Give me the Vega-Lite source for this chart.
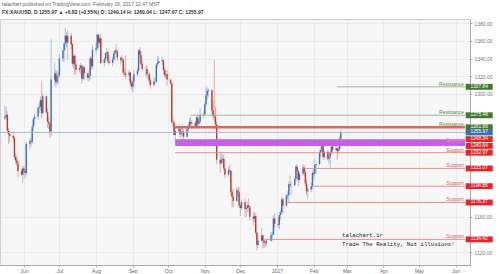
{
  "$schema": "https://vega.github.io/schema/vega-lite/v6.json",
  "autosize": {"type": "none"},
  "padding": {"left": 0, "top": 19, "right": 29, "bottom": 9},
  "width": 470,
  "height": 246,
  "background": "#ffffff",
  "config": {
    "font": "Liberation Sans",
    "view": {"fill": "#f6f6f6", "stroke": "#cfcfcf"}
  },
  "title": {
    "text": "talachart published on TradingView.com, February 26, 2017 12:47 MST",
    "subtitle": "FX:XAUUSD, D  1255.97 ▲ +6.83 (+0.55%)  O: 1249.14  H: 1260.04  L: 1247.67  C: 1255.97",
    "anchor": "start", "frame": "group", "fontSize": 5, "subtitleFontSize": 5,
    "fontWeight": "normal", "subtitleFontWeight": "bold", "color": "#666", "subtitleColor": "#333",
    "offset": 4, "subtitlePadding": 3, "dx": 2
  },
  "resolve": {"axis": {"x": "independent", "y": "independent"}},
  "datasets": {
    "c": [
      {"d":"2016-05-16","o":1272,"h":1287,"l":1270,"c":1274},
      {"d":"2016-05-17","o":1274,"h":1285,"l":1270,"c":1276},
      {"d":"2016-05-18","o":1276,"h":1280,"l":1255,"c":1258},
      {"d":"2016-05-19","o":1258,"h":1261,"l":1243,"c":1254},
      {"d":"2016-05-20","o":1254,"h":1258,"l":1245,"c":1252},
      {"d":"2016-05-23","o":1252,"h":1257,"l":1245,"c":1250},
      {"d":"2016-05-24","o":1250,"h":1252,"l":1225,"c":1228},
      {"d":"2016-05-25","o":1228,"h":1232,"l":1220,"c":1224},
      {"d":"2016-05-26","o":1224,"h":1229,"l":1218,"c":1221},
      {"d":"2016-05-27","o":1221,"h":1225,"l":1205,"c":1212},
      {"d":"2016-05-30","o":1212,"h":1215,"l":1206,"c":1208},
      {"d":"2016-05-31","o":1208,"h":1218,"l":1199,"c":1215},
      {"d":"2016-06-01","o":1215,"h":1218,"l":1208,"c":1212},
      {"d":"2016-06-02","o":1212,"h":1214,"l":1204,"c":1210},
      {"d":"2016-06-03","o":1210,"h":1245,"l":1207,"c":1243},
      {"d":"2016-06-06","o":1243,"h":1249,"l":1237,"c":1246},
      {"d":"2016-06-07","o":1246,"h":1250,"l":1240,"c":1245},
      {"d":"2016-06-08","o":1245,"h":1265,"l":1243,"c":1262},
      {"d":"2016-06-09","o":1262,"h":1273,"l":1258,"c":1271},
      {"d":"2016-06-10","o":1271,"h":1277,"l":1265,"c":1274},
      {"d":"2016-06-13","o":1274,"h":1287,"l":1270,"c":1284},
      {"d":"2016-06-14","o":1284,"h":1290,"l":1278,"c":1285},
      {"d":"2016-06-15","o":1285,"h":1297,"l":1280,"c":1293},
      {"d":"2016-06-16","o":1293,"h":1315,"l":1272,"c":1278},
      {"d":"2016-06-17","o":1278,"h":1300,"l":1276,"c":1297},
      {"d":"2016-06-20","o":1297,"h":1298,"l":1278,"c":1279},
      {"d":"2016-06-21","o":1279,"h":1283,"l":1261,"c":1268},
      {"d":"2016-06-22","o":1268,"h":1273,"l":1260,"c":1266},
      {"d":"2016-06-23","o":1266,"h":1268,"l":1250,"c":1257},
      {"d":"2016-06-24","o":1257,"h":1362,"l":1252,"c":1316},
      {"d":"2016-06-27","o":1316,"h":1335,"l":1310,"c":1323},
      {"d":"2016-06-28","o":1323,"h":1327,"l":1307,"c":1313},
      {"d":"2016-06-29","o":1313,"h":1326,"l":1310,"c":1320},
      {"d":"2016-06-30","o":1320,"h":1325,"l":1311,"c":1321},
      {"d":"2016-07-01","o":1321,"h":1345,"l":1318,"c":1340},
      {"d":"2016-07-04","o":1340,"h":1350,"l":1336,"c":1349},
      {"d":"2016-07-05","o":1349,"h":1358,"l":1337,"c":1357},
      {"d":"2016-07-06","o":1357,"h":1375,"l":1350,"c":1366},
      {"d":"2016-07-07","o":1366,"h":1370,"l":1353,"c":1358},
      {"d":"2016-07-08","o":1358,"h":1372,"l":1338,"c":1366},
      {"d":"2016-07-11","o":1366,"h":1369,"l":1350,"c":1356},
      {"d":"2016-07-12","o":1356,"h":1358,"l":1331,"c":1334},
      {"d":"2016-07-13","o":1334,"h":1345,"l":1328,"c":1343},
      {"d":"2016-07-14","o":1343,"h":1345,"l":1321,"c":1333},
      {"d":"2016-07-15","o":1333,"h":1338,"l":1323,"c":1327},
      {"d":"2016-07-18","o":1327,"h":1333,"l":1324,"c":1329},
      {"d":"2016-07-19","o":1329,"h":1335,"l":1322,"c":1332},
      {"d":"2016-07-20","o":1332,"h":1333,"l":1311,"c":1317},
      {"d":"2016-07-21","o":1317,"h":1331,"l":1315,"c":1330},
      {"d":"2016-07-22","o":1330,"h":1332,"l":1316,"c":1323},
      {"d":"2016-07-25","o":1323,"h":1324,"l":1315,"c":1318},
      {"d":"2016-07-26","o":1318,"h":1326,"l":1314,"c":1320},
      {"d":"2016-07-27","o":1320,"h":1343,"l":1316,"c":1340},
      {"d":"2016-07-28","o":1340,"h":1342,"l":1326,"c":1331},
      {"d":"2016-07-29","o":1331,"h":1355,"l":1328,"c":1350},
      {"d":"2016-08-01","o":1350,"h":1358,"l":1345,"c":1352},
      {"d":"2016-08-02","o":1352,"h":1368,"l":1350,"c":1367},
      {"d":"2016-08-03","o":1367,"h":1368,"l":1350,"c":1358},
      {"d":"2016-08-04","o":1358,"h":1366,"l":1354,"c":1363},
      {"d":"2016-08-05","o":1363,"h":1368,"l":1334,"c":1335},
      {"d":"2016-08-08","o":1335,"h":1341,"l":1331,"c":1339},
      {"d":"2016-08-09","o":1339,"h":1347,"l":1335,"c":1346},
      {"d":"2016-08-10","o":1346,"h":1352,"l":1340,"c":1347},
      {"d":"2016-08-11","o":1347,"h":1349,"l":1335,"c":1337},
      {"d":"2016-08-12","o":1337,"h":1344,"l":1332,"c":1335},
      {"d":"2016-08-15","o":1335,"h":1342,"l":1331,"c":1339},
      {"d":"2016-08-16","o":1339,"h":1348,"l":1337,"c":1346},
      {"d":"2016-08-17","o":1346,"h":1350,"l":1340,"c":1349},
      {"d":"2016-08-18","o":1349,"h":1356,"l":1345,"c":1348},
      {"d":"2016-08-19","o":1348,"h":1351,"l":1337,"c":1341},
      {"d":"2016-08-22","o":1341,"h":1342,"l":1333,"c":1338},
      {"d":"2016-08-23","o":1338,"h":1345,"l":1335,"c":1339},
      {"d":"2016-08-24","o":1339,"h":1341,"l":1321,"c":1324},
      {"d":"2016-08-25","o":1324,"h":1329,"l":1319,"c":1323},
      {"d":"2016-08-26","o":1323,"h":1344,"l":1317,"c":1321},
      {"d":"2016-08-29","o":1321,"h":1327,"l":1315,"c":1324},
      {"d":"2016-08-30","o":1324,"h":1325,"l":1309,"c":1312},
      {"d":"2016-08-31","o":1312,"h":1315,"l":1305,"c":1308},
      {"d":"2016-09-01","o":1308,"h":1318,"l":1302,"c":1314},
      {"d":"2016-09-02","o":1314,"h":1327,"l":1307,"c":1322},
      {"d":"2016-09-05","o":1322,"h":1330,"l":1320,"c":1326},
      {"d":"2016-09-06","o":1326,"h":1351,"l":1325,"c":1349},
      {"d":"2016-09-07","o":1349,"h":1353,"l":1340,"c":1344},
      {"d":"2016-09-08","o":1344,"h":1348,"l":1332,"c":1334},
      {"d":"2016-09-09","o":1334,"h":1338,"l":1325,"c":1328},
      {"d":"2016-09-12","o":1328,"h":1331,"l":1320,"c":1328},
      {"d":"2016-09-13","o":1328,"h":1332,"l":1317,"c":1322},
      {"d":"2016-09-14","o":1322,"h":1327,"l":1318,"c":1322},
      {"d":"2016-09-15","o":1322,"h":1324,"l":1310,"c":1315},
      {"d":"2016-09-16","o":1315,"h":1318,"l":1306,"c":1310},
      {"d":"2016-09-19","o":1310,"h":1318,"l":1308,"c":1314},
      {"d":"2016-09-20","o":1314,"h":1318,"l":1311,"c":1314},
      {"d":"2016-09-21","o":1314,"h":1335,"l":1312,"c":1333},
      {"d":"2016-09-22","o":1333,"h":1343,"l":1330,"c":1335},
      {"d":"2016-09-23","o":1335,"h":1342,"l":1334,"c":1337},
      {"d":"2016-09-26","o":1337,"h":1342,"l":1333,"c":1338},
      {"d":"2016-09-27","o":1338,"h":1339,"l":1322,"c":1327},
      {"d":"2016-09-28","o":1327,"h":1330,"l":1318,"c":1321},
      {"d":"2016-09-29","o":1321,"h":1327,"l":1317,"c":1322},
      {"d":"2016-09-30","o":1322,"h":1327,"l":1309,"c":1316},
      {"d":"2016-10-03","o":1316,"h":1317,"l":1310,"c":1312},
      {"d":"2016-10-04","o":1312,"h":1313,"l":1266,"c":1268},
      {"d":"2016-10-05","o":1268,"h":1273,"l":1262,"c":1267},
      {"d":"2016-10-06","o":1267,"h":1269,"l":1252,"c":1253},
      {"d":"2016-10-07","o":1253,"h":1264,"l":1241,"c":1258},
      {"d":"2016-10-10","o":1258,"h":1266,"l":1256,"c":1260},
      {"d":"2016-10-11","o":1260,"h":1262,"l":1250,"c":1254},
      {"d":"2016-10-12","o":1254,"h":1261,"l":1250,"c":1255},
      {"d":"2016-10-13","o":1255,"h":1265,"l":1252,"c":1257},
      {"d":"2016-10-14","o":1257,"h":1260,"l":1248,"c":1251},
      {"d":"2016-10-17","o":1251,"h":1261,"l":1250,"c":1260},
      {"d":"2016-10-18","o":1260,"h":1266,"l":1257,"c":1262},
      {"d":"2016-10-19","o":1262,"h":1272,"l":1260,"c":1268},
      {"d":"2016-10-20","o":1268,"h":1274,"l":1261,"c":1266},
      {"d":"2016-10-21","o":1266,"h":1270,"l":1260,"c":1267},
      {"d":"2016-10-24","o":1267,"h":1269,"l":1261,"c":1263},
      {"d":"2016-10-25","o":1263,"h":1275,"l":1261,"c":1273},
      {"d":"2016-10-26","o":1273,"h":1277,"l":1263,"c":1266},
      {"d":"2016-10-27","o":1266,"h":1271,"l":1262,"c":1268},
      {"d":"2016-10-28","o":1268,"h":1284,"l":1265,"c":1276},
      {"d":"2016-10-31","o":1276,"h":1280,"l":1272,"c":1277},
      {"d":"2016-11-01","o":1277,"h":1291,"l":1275,"c":1288},
      {"d":"2016-11-02","o":1288,"h":1306,"l":1285,"c":1298},
      {"d":"2016-11-03","o":1298,"h":1308,"l":1293,"c":1303},
      {"d":"2016-11-04","o":1303,"h":1306,"l":1296,"c":1304},
      {"d":"2016-11-07","o":1304,"h":1305,"l":1277,"c":1281},
      {"d":"2016-11-08","o":1281,"h":1292,"l":1271,"c":1275},
      {"d":"2016-11-09","o":1275,"h":1338,"l":1268,"c":1274},
      {"d":"2016-11-10","o":1274,"h":1285,"l":1260,"c":1265},
      {"d":"2016-11-11","o":1265,"h":1268,"l":1220,"c":1225},
      {"d":"2016-11-14","o":1225,"h":1232,"l":1210,"c":1221},
      {"d":"2016-11-15","o":1221,"h":1234,"l":1219,"c":1225},
      {"d":"2016-11-16","o":1225,"h":1231,"l":1221,"c":1226},
      {"d":"2016-11-17","o":1226,"h":1231,"l":1212,"c":1215},
      {"d":"2016-11-18","o":1215,"h":1219,"l":1204,"c":1208},
      {"d":"2016-11-21","o":1208,"h":1217,"l":1205,"c":1213},
      {"d":"2016-11-22","o":1213,"h":1220,"l":1208,"c":1212},
      {"d":"2016-11-23","o":1212,"h":1213,"l":1184,"c":1188},
      {"d":"2016-11-24","o":1188,"h":1191,"l":1171,"c":1183},
      {"d":"2016-11-25","o":1183,"h":1192,"l":1171,"c":1178},
      {"d":"2016-11-28","o":1178,"h":1194,"l":1177,"c":1190},
      {"d":"2016-11-29","o":1190,"h":1194,"l":1183,"c":1188},
      {"d":"2016-11-30","o":1188,"h":1194,"l":1170,"c":1173},
      {"d":"2016-12-01","o":1173,"h":1175,"l":1161,"c":1170},
      {"d":"2016-12-02","o":1170,"h":1180,"l":1168,"c":1177},
      {"d":"2016-12-05","o":1177,"h":1181,"l":1160,"c":1169},
      {"d":"2016-12-06","o":1169,"h":1172,"l":1160,"c":1170},
      {"d":"2016-12-07","o":1170,"h":1178,"l":1165,"c":1173},
      {"d":"2016-12-08","o":1173,"h":1181,"l":1167,"c":1171},
      {"d":"2016-12-09","o":1171,"h":1173,"l":1156,"c":1160},
      {"d":"2016-12-12","o":1160,"h":1165,"l":1150,"c":1158},
      {"d":"2016-12-13","o":1158,"h":1166,"l":1154,"c":1161},
      {"d":"2016-12-14","o":1161,"h":1164,"l":1140,"c":1142},
      {"d":"2016-12-15","o":1142,"h":1143,"l":1122,"c":1128},
      {"d":"2016-12-16","o":1128,"h":1140,"l":1125,"c":1133},
      {"d":"2016-12-19","o":1133,"h":1147,"l":1132,"c":1139},
      {"d":"2016-12-20","o":1139,"h":1139,"l":1124,"c":1133},
      {"d":"2016-12-21","o":1133,"h":1136,"l":1125,"c":1131},
      {"d":"2016-12-22","o":1131,"h":1135,"l":1126,"c":1130},
      {"d":"2016-12-23","o":1130,"h":1135,"l":1127,"c":1133},
      {"d":"2016-12-27","o":1133,"h":1143,"l":1132,"c":1139},
      {"d":"2016-12-28","o":1139,"h":1143,"l":1133,"c":1140},
      {"d":"2016-12-29","o":1140,"h":1162,"l":1139,"c":1158},
      {"d":"2016-12-30","o":1158,"h":1164,"l":1147,"c":1152},
      {"d":"2017-01-02","o":1152,"h":1160,"l":1148,"c":1151},
      {"d":"2017-01-03","o":1151,"h":1165,"l":1146,"c":1162},
      {"d":"2017-01-04","o":1162,"h":1168,"l":1157,"c":1165},
      {"d":"2017-01-05","o":1165,"h":1182,"l":1163,"c":1180},
      {"d":"2017-01-06","o":1180,"h":1182,"l":1165,"c":1173},
      {"d":"2017-01-09","o":1173,"h":1186,"l":1171,"c":1184},
      {"d":"2017-01-10","o":1184,"h":1189,"l":1180,"c":1185},
      {"d":"2017-01-11","o":1185,"h":1200,"l":1176,"c":1197},
      {"d":"2017-01-12","o":1197,"h":1207,"l":1193,"c":1196},
      {"d":"2017-01-13","o":1196,"h":1200,"l":1185,"c":1196},
      {"d":"2017-01-16","o":1196,"h":1205,"l":1195,"c":1203},
      {"d":"2017-01-17","o":1203,"h":1219,"l":1200,"c":1217},
      {"d":"2017-01-18","o":1217,"h":1220,"l":1204,"c":1212},
      {"d":"2017-01-19","o":1212,"h":1213,"l":1195,"c":1202},
      {"d":"2017-01-20","o":1202,"h":1211,"l":1199,"c":1209},
      {"d":"2017-01-23","o":1209,"h":1220,"l":1207,"c":1216},
      {"d":"2017-01-24","o":1216,"h":1219,"l":1207,"c":1211},
      {"d":"2017-01-25","o":1211,"h":1212,"l":1195,"c":1198},
      {"d":"2017-01-26","o":1198,"h":1203,"l":1185,"c":1189},
      {"d":"2017-01-27","o":1189,"h":1194,"l":1180,"c":1191},
      {"d":"2017-01-30","o":1191,"h":1199,"l":1188,"c":1195},
      {"d":"2017-01-31","o":1195,"h":1213,"l":1191,"c":1210},
      {"d":"2017-02-01","o":1210,"h":1215,"l":1202,"c":1209},
      {"d":"2017-02-02","o":1209,"h":1226,"l":1206,"c":1219},
      {"d":"2017-02-03","o":1219,"h":1221,"l":1210,"c":1220},
      {"d":"2017-02-06","o":1220,"h":1236,"l":1218,"c":1233},
      {"d":"2017-02-07","o":1233,"h":1239,"l":1228,"c":1236},
      {"d":"2017-02-08","o":1236,"h":1244,"l":1233,"c":1241},
      {"d":"2017-02-09","o":1241,"h":1243,"l":1225,"c":1228},
      {"d":"2017-02-10","o":1228,"h":1236,"l":1225,"c":1234},
      {"d":"2017-02-13","o":1234,"h":1236,"l":1224,"c":1226},
      {"d":"2017-02-14","o":1226,"h":1233,"l":1220,"c":1228},
      {"d":"2017-02-15","o":1228,"h":1235,"l":1216,"c":1233},
      {"d":"2017-02-16","o":1233,"h":1243,"l":1231,"c":1240},
      {"d":"2017-02-17","o":1240,"h":1242,"l":1233,"c":1236},
      {"d":"2017-02-20","o":1236,"h":1241,"l":1233,"c":1238},
      {"d":"2017-02-21","o":1238,"h":1240,"l":1225,"c":1235},
      {"d":"2017-02-22","o":1235,"h":1240,"l":1232,"c":1237},
      {"d":"2017-02-23","o":1237,"h":1252,"l":1235,"c":1249},
      {"d":"2017-02-24","o":1249.14,"h":1260.04,"l":1247.67,"c":1255.97}
    ],
    "lines": [
      {"p":1307.84,"s":"2017-02-21","k":"res"},
      {"p":1275.48,"s":"2016-10-20","k":"res"},
      {"p":1232.97,"s":"2016-10-07","k":"sup"},
      {"p":1215.07,"s":"2017-01-23","k":"sup"},
      {"p":1194.86,"s":"2017-01-30","k":"sup"},
      {"p":1176.37,"s":"2017-01-08","k":"sup"},
      {"p":1134.42,"s":"2016-12-23","k":"sup"}
    ],
    "bands": [
      {"lo":1260.4,"hi":1263.4,"s":"2016-10-07","k":"red"},
      {"lo":1240.64,"hi":1248.34,"s":"2016-10-07","k":"purple"}
    ],
    "tags": [
      {"p":1307.84,"t":"Resistance","k":"res"},
      {"p":1275.48,"t":"Resistance","k":"res"},
      {"p":1261.86,"t":"Resistance","k":"res"},
      {"p":1244.5,"t":"Support","k":"pink"},
      {"p":1232.97,"t":"Support","k":"sup"},
      {"p":1215.07,"t":"Support","k":"sup"},
      {"p":1194.86,"t":"Support","k":"sup"},
      {"p":1176.37,"t":"Support","k":"sup"},
      {"p":1134.42,"t":"Support","k":"sup"}
    ],
    "ax": [
      {"p":1307.84,"k":"g"},
      {"p":1275.48,"k":"g"},
      {"p":1261.86,"k":"g"},
      {"p":1255.97,"k":"b"},
      {"p":1248.34,"k":"r"},
      {"p":1240.64,"k":"r"},
      {"p":1232.97,"k":"r"},
      {"p":1215.07,"k":"r"},
      {"p":1194.86,"k":"r"},
      {"p":1176.37,"k":"r"},
      {"p":1134.42,"k":"r"}
    ],
    "wm": [
      {"d":"2017-02-25","p":1139.4,"t":"talachart.ir"},
      {"d":"2017-02-25","p":1129.2,"t":"Trade The Reality, Not illusions!"}
    ]
  },
  "layer": [
    {
      "data": {"name": "c"},
      "mark": {"type": "rule", "strokeWidth": 0.7, "opacity": 0.55},
      "encoding": {
        "x": {"field": "d", "type": "temporal",
          "scale": {"type": "utc", "domain": [{"year":2016,"month":5,"date":16,"utc":true},{"year":2017,"month":6,"date":9,"utc":true}]},
          "axis": {
            "title": null, "orient": "bottom",
            "values": [
              {"year":2016,"month":6,"date":1,"utc":true},{"year":2016,"month":7,"date":1,"utc":true},
              {"year":2016,"month":8,"date":1,"utc":true},{"year":2016,"month":9,"date":1,"utc":true},
              {"year":2016,"month":10,"date":1,"utc":true},{"year":2016,"month":11,"date":1,"utc":true},
              {"year":2016,"month":12,"date":1,"utc":true},{"year":2017,"month":1,"date":1,"utc":true},
              {"year":2017,"month":2,"date":1,"utc":true},{"year":2017,"month":3,"date":1,"utc":true},
              {"year":2017,"month":4,"date":1,"utc":true},{"year":2017,"month":5,"date":1,"utc":true},
              {"year":2017,"month":6,"date":1,"utc":true}
            ],
            "labelExpr": "utcmonth(datum.value) == 0 ? utcFormat(datum.value, '%Y') : utcFormat(datum.value, '%b')",
            "labelFontSize": 5, "labelColor": "#666", "tickSize": 2, "tickColor": "#aaa",
            "domainColor": "#aaa", "labelPadding": 1, "grid": true, "gridColor": "#e7e7e7", "gridWidth": 0.8,
            "labelFlush": false, "labelOverlap": false
          }
        },
        "y": {"field": "l", "type": "quantitative",
          "scale": {"domain": [1105.3, 1384.9], "nice": false, "zero": false},
          "axis": {
            "title": null, "orient": "right",
            "values": [1120,1160,1300,1320,1340,1360,1380],
            "format": ".2f", "labelFontSize": 5, "labelColor": "#777", "tickSize": 2, "tickColor": "#aaa",
            "domainColor": "#aaa", "labelPadding": 2, "grid": true, "gridColor": "#e7e7e7", "gridWidth": 0.8,
            "labelOverlap": false
          }
        },
        "y2": {"field": "h"},
        "color": {"condition": {"test": "datum.c >= datum.o", "value": "#3a72c2"}, "value": "#c0392b"}
      }
    },
    {
      "data": {"name": "c"},
      "mark": {"type": "bar", "width": 1.4},
      "encoding": {
        "x": {"field": "d", "type": "temporal", "axis": null},
        "y": {"field": "o", "type": "quantitative", "axis": null},
        "y2": {"field": "c"},
        "color": {"condition": {"test": "datum.c >= datum.o", "value": "#3a72c2"}, "value": "#c0392b"}
      }
    },
    {
      "data": {"values": [{"p": 1255.97}]},
      "mark": {"type": "rule", "color": "#9fb3cf", "strokeWidth": 0.9},
      "encoding": {"y": {"field": "p", "type": "quantitative", "axis": null}}
    },
    {
      "data": {"name": "bands"},
      "mark": {"type": "rect"},
      "encoding": {
        "x": {"field": "s", "type": "temporal", "axis": null},
        "x2": {"datum": {"year":2017,"month":6,"date":9,"utc":true}},
        "y": {"field": "lo", "type": "quantitative", "axis": null},
        "y2": {"field": "hi"},
        "color": {"condition": {"test": "datum.k == 'red'", "value": "#e4645a"}, "value": "#c462e6"}
      }
    },
    {
      "data": {"name": "lines"},
      "mark": {"type": "rule", "strokeWidth": 0.9},
      "encoding": {
        "x": {"field": "s", "type": "temporal", "axis": null},
        "x2": {"datum": {"year":2017,"month":6,"date":9,"utc":true}},
        "y": {"field": "p", "type": "quantitative", "axis": null},
        "color": {"condition": {"test": "datum.k == 'res'", "value": "#9ab392"}, "value": "#e08a7f"}
      }
    },
    {
      "data": {"name": "tags"},
      "mark": {"type": "text", "align": "right", "baseline": "bottom", "fontSize": 5, "dy": 0},
      "encoding": {
        "x": {"datum": {"year":2017,"month":6,"date":8,"utc":true}, "type": "temporal", "axis": null},
        "y": {"field": "p", "type": "quantitative", "axis": null},
        "text": {"field": "t"},
        "color": {"condition": [{"test": "datum.k == 'res'", "value": "#5f8f4e"}, {"test": "datum.k == 'pink'", "value": "#f27fc0"}], "value": "#e0605a"}
      }
    },
    {
      "data": {"name": "wm"},
      "mark": {"type": "text", "align": "left", "baseline": "middle", "fontSize": 5.7, "font": "Liberation Mono", "color": "#222"},
      "encoding": {
        "x": {"field": "d", "type": "temporal", "axis": null},
        "y": {"field": "p", "type": "quantitative", "axis": null},
        "text": {"field": "t"}
      }
    },
    {
      "data": {"name": "ax"},
      "mark": {"type": "point", "shape": "M-1,-0.22H1V0.22H-1Z", "size": 729, "filled": true, "opacity": 1},
      "encoding": {
        "x": {"datum": {"year":2017,"month":6,"date":21,"utc":true}, "type": "temporal", "axis": null},
        "y": {"field": "p", "type": "quantitative", "axis": null},
        "color": {"condition": [{"test": "datum.k == 'g'", "value": "#3d7b2f"}, {"test": "datum.k == 'b'", "value": "#3a6fb5"}], "value": "#e3262a"}
      }
    },
    {
      "data": {"name": "ax"},
      "mark": {"type": "text", "align": "center", "baseline": "middle", "fontSize": 4.8, "color": "#ffffff"},
      "encoding": {
        "x": {"datum": {"year":2017,"month":6,"date":21,"utc":true}, "type": "temporal", "axis": null},
        "y": {"field": "p", "type": "quantitative", "axis": null},
        "text": {"field": "p", "format": ".2f"}
      }
    }
  ]
}
